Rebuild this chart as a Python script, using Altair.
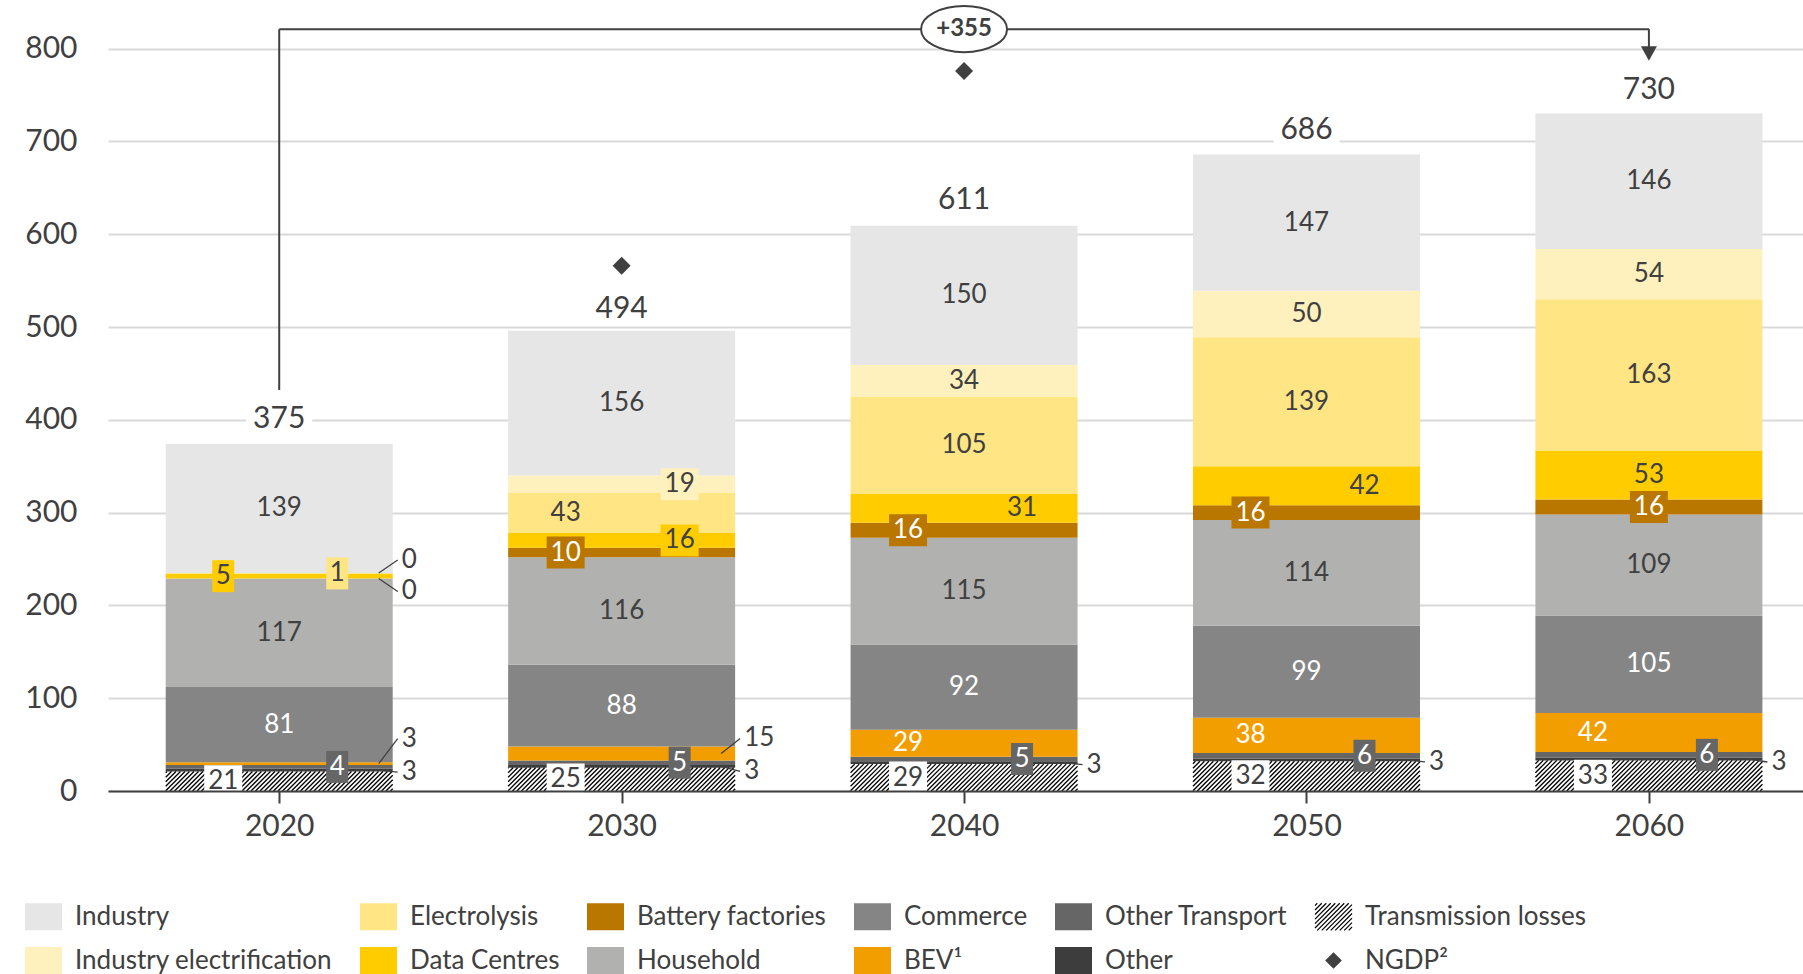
import altair as alt
import pandas as pd
import numpy as np

# ---------------- data ----------------
years = [2020, 2030, 2040, 2050, 2060]
transmission_losses = [21, 25, 29, 32, 33]
other = [3, 3, 3, 3, 3]
other_transport = [4, 5, 5, 6, 6]
bev = [3, 15, 29, 38, 42]
commerce = [81, 88, 92, 99, 105]
household = [117, 116, 115, 114, 109]
battery_factories = [0, 10, 16, 16, 16]
data_centres = [5, 16, 31, 42, 53]
electrolysis = [1, 43, 105, 139, 163]
industry_electrification = [0, 19, 34, 50, 54]
industry = [139, 156, 150, 147, 146]
totals = [375, 494, 611, 686, 730]
ngdp_years = [2030, 2040]
ngdp_values = [566, 776]

# stacking order, bottom -> top
STACK = [
    ("Transmission losses", transmission_losses),
    ("Other", other),
    ("Other Transport", other_transport),
    ("BEV¹", bev),
    ("Commerce", commerce),
    ("Household", household),
    ("Battery factories", battery_factories),
    ("Data Centres", data_centres),
    ("Electrolysis", electrolysis),
    ("Industry electrification", industry_electrification),
    ("Industry", industry),
]

LEGEND_ORDER = ["Industry", "Electrolysis", "Battery factories", "Commerce",
                "Other Transport", "Transmission losses",
                "Industry electrification", "Data Centres", "Household",
                "BEV¹", "Other", "NGDP²"]

COLORS = {
    "Industry": "#e6e6e6", "Electrolysis": "#ffe583",
    "Battery factories": "#b97700", "Commerce": "#858585",
    "Other Transport": "#666666", "Transmission losses": "#ffffff",
    "Industry electrification": "#fff1bd", "Data Centres": "#ffcc00",
    "Household": "#b1b1b0", "BEV¹": "#f39e00", "Other": "#3d3d3d",
    "NGDP²": "#404040",
}
DARK = "#404040"

# ---------------- geometry / style ----------------
PLOT_W, PLOT_H = 1695, 786
X_DOM = [2015, 2064.5]
Y_DOM = [0, 847]
PX_X = PLOT_W / (X_DOM[1] - X_DOM[0])
PX_Y = PLOT_H / (Y_DOM[1] - Y_DOM[0])
BAR_PX = 227
FONT = "Lato"


def ux(px):
    return px / PX_X


def uy(px):
    return px / PX_Y


def rect_path(w, h, s):
    a, b = w / s, h / s
    return f"M{-a:.4f},{-b:.4f}H{a:.4f}V{b:.4f}H{-a:.4f}Z"


# ---------------- stacked segments ----------------
seg_rows = []
for i, yr in enumerate(years):
    base = 0
    for name, vals in STACK:
        v = vals[i]
        seg_rows.append(dict(year=yr, series=name, value=v, y0=base, y1=base + v,
                             mid=base + v / 2))
        base += v
seg_df = pd.DataFrame(seg_rows)

# ---------------- hatch lines for transmission losses ----------------
HATCH_SP = 4.5
hatch_rows = []
for yr, v in zip(years, transmission_losses):
    W, H = BAR_PX, v * PX_Y
    c = -W + HATCH_SP / 2
    while c < H:
        xa = max(0.0, -c)
        xb = min(W, H - c)
        if xb > xa:
            hatch_rows.append(dict(series="Transmission losses",
                                   x=yr + ux(xa - W / 2), x2=yr + ux(xb - W / 2),
                                   y=(xa + c) / PX_Y, y2=(xb + c) / PX_Y))
        c += HATCH_SP
hatch_df = pd.DataFrame(hatch_rows)

# ---------------- legend symbols ----------------
LEG_S = 37
RECT_SYM = rect_path(37, 27, LEG_S)
hh = 27 / LEG_S
step = 2 * 4.5 / LEG_S
parts = []
k = -1 - hh + step / 2
while k < 1 + hh:
    xa, xb = max(-1.0, k - hh), min(1.0, k + hh)
    if xb > xa:
        parts.append(f"M{xa:.3f},{-xa + k:.3f}L{xb:.3f},{-xb + k:.3f}")
    k += step
HATCH_SYM = "".join(parts)
DIAMOND_SYM = "M0,-0.45L0.45,0L0,0.45L-0.45,0Z"

SHAPES = {n: RECT_SYM for n in LEGEND_ORDER}
SHAPES["Transmission losses"] = HATCH_SYM
SHAPES["NGDP²"] = DIAMOND_SYM
STROKES = {n: "transparent" for n in LEGEND_ORDER}
STROKES["Transmission losses"] = "#000000"

fill_scale = alt.Scale(domain=LEGEND_ORDER, range=[COLORS[n] for n in LEGEND_ORDER])
stroke_scale = alt.Scale(domain=LEGEND_ORDER, range=[STROKES[n] for n in LEGEND_ORDER])
shape_scale = alt.Scale(domain=LEGEND_ORDER, range=[SHAPES[n] for n in LEGEND_ORDER])

LEG = dict(title=None, orient="none", legendX=-84, legendY=892,
           direction="horizontal", columns=6, symbolType="square",
           symbolSize=LEG_S ** 2, symbolStrokeWidth=1.2, symbolOpacity=1,
           labelFont=FONT, labelFontSize=26, labelColor=DARK, labelLimit=600,
           labelOffset=12, columnPadding=24, rowPadding=8, padding=0)

# ---------------- labels ----------------
LEFT_PX, RIGHT_PX = -56, 58
MODES = {}
for yr in years:
    MODES[(yr, "Transmission losses")] = "left_box"
    MODES[(yr, "Other")] = "ext"
    MODES[(yr, "Other Transport")] = "right_box"
MODES.update({
    (2020, "BEV¹"): "ext", (2020, "Battery factories"): "ext",
    (2020, "Data Centres"): "left_box", (2020, "Electrolysis"): "right_box",
    (2020, "Industry electrification"): "ext",
    (2030, "BEV¹"): "ext", (2030, "Battery factories"): "left_box",
    (2030, "Data Centres"): "right_box", (2030, "Electrolysis"): "left",
    (2030, "Industry electrification"): "right_box",
    (2040, "BEV¹"): "left", (2040, "Battery factories"): "left_box",
    (2040, "Data Centres"): "right",
    (2050, "BEV¹"): "left", (2050, "Battery factories"): "left_box",
    (2050, "Data Centres"): "right",
    (2060, "BEV¹"): "left", (2060, "Battery factories"): "center_box",
})
NUDGE = {(2020, "Other"): 2, (2020, "BEV¹"): -25, (2020, "Battery factories"): 13,
         (2020, "Industry electrification"): -13, (2030, "Other"): 5,
         (2030, "BEV¹"): -15, (2040, "Other"): 2, (2050, "Other"): 2,
         (2060, "Other"): 3}
BOX_COLOR = {"Transmission losses": "#ffffff", "Other Transport": "#666666",
             "Battery factories": COLORS["Battery factories"],
             "Data Centres": COLORS["Data Centres"],
             "Electrolysis": COLORS["Electrolysis"],
             "Industry electrification": COLORS["Industry electrification"]}
WHITE_TEXT = {"Commerce", "BEV¹", "Battery factories", "Other Transport"}

lab_rows, box_rows, lead_rows = [], [], []
for r in seg_rows:
    yr, name, v, mid = r["year"], r["series"], r["value"], r["mid"]
    mode = MODES.get((yr, name), "center")
    txt = str(v)
    right = yr + ux(BAR_PX / 2)
    if mode == "ext":
        ly = mid - uy(NUDGE.get((yr, name), 0))
        lab_rows.append(dict(x=right + ux(9), y=ly, text=txt, tcolor="dark", align="left"))
        lead_rows.append(dict(x=right - ux(14), x2=right + ux(5), y=mid, y2=ly))
        continue
    off = {"left": LEFT_PX, "left_box": LEFT_PX, "right": RIGHT_PX,
           "right_box": RIGHT_PX}.get(mode, 0)
    lx = yr + ux(off)
    tcol = "white" if name in WHITE_TEXT else "dark"
    lab_rows.append(dict(x=lx, y=mid, text=txt, tcolor=tcol, align="center"))
    if mode.endswith("box"):
        w = 22 if len(txt) == 1 else 38
        box_rows.append(dict(bx=lx, by0=mid - uy(16), by1=mid + uy(16), bw=w,
                             bcolor=BOX_COLOR[name]))

TOT_OFF = 24
for yr, t in zip(years, totals):
    box_rows.append(dict(bx=yr, by0=t + uy(TOT_OFF - 15), by1=t + uy(TOT_OFF + 15),
                         bw=66, bcolor="#ffffff"))
lab_df = pd.DataFrame(lab_rows)
box_df = pd.DataFrame(box_rows)
lead_df = pd.DataFrame(lead_rows)
tot_df = pd.DataFrame(dict(x=years, y=[t + uy(TOT_OFF) for t in totals],
                           text=[str(t) for t in totals]))
ngdp_df = pd.DataFrame(dict(year=ngdp_years, value=ngdp_values,
                            series=["NGDP²"] * len(ngdp_years)))

# bracket annotation
BRACKET_TOP = 821
start_y = totals[0] + uy(53)
tip_y = totals[-1] + uy(53)
brk_df = pd.DataFrame(dict(x=[years[0], years[0], years[-1]],
                           x2=[years[0], years[-1], years[-1]],
                           y=[start_y, BRACKET_TOP, tip_y + uy(12)],
                           y2=[BRACKET_TOP, BRACKET_TOP, BRACKET_TOP]))
arrow_df = pd.DataFrame(dict(x=[years[-1]], y=[tip_y + uy(7)]))
delta_df = pd.DataFrame(dict(x=[(years[0] + years[-1]) / 2], y=[BRACKET_TOP],
                             text=[f"+{totals[-1] - totals[0]}"]))

# ---------------- encodings ----------------
xs = alt.Scale(domain=X_DOM, nice=False, zero=False, padding=0)
ys = alt.Scale(domain=Y_DOM, nice=False, zero=False, padding=0)
AX_X = alt.Axis(values=years, format="d", title=None, grid=False,
                labelFont=FONT, labelFontSize=30, labelColor=DARK,
                tickSize=12, tickWidth=2, tickColor=DARK,
                domainColor=DARK, domainWidth=2, labelPadding=8, zindex=1)
AX_Y = alt.Axis(values=list(range(0, 801, 100)), title=None, grid=True,
                gridColor="#d9d9d9", gridWidth=2, domain=False,
                ticks=False, labelFont=FONT, labelFontSize=30,
                labelColor=DARK, labelPadding=31, zindex=0)


def X(f):
    return alt.X(f, scale=xs, axis=AX_X)


def Y(f):
    return alt.Y(f, scale=ys, axis=AX_Y)


bars = alt.Chart(seg_df).mark_bar(size=BAR_PX).encode(
    x=X("year:Q"), y=Y("y0:Q"), y2="y1:Q",
    fill=alt.Fill("series:N", scale=fill_scale, legend=alt.Legend(**LEG)),
)

hatch = alt.Chart(hatch_df).mark_rule(strokeWidth=1.3).encode(
    x=X("x:Q"), x2="x2:Q", y=Y("y:Q"), y2="y2:Q",
    stroke=alt.Stroke("series:N", scale=stroke_scale, legend=alt.Legend(**LEG)),
)

brackets = alt.Chart(brk_df).mark_rule(color=DARK, strokeWidth=2).encode(
    x=X("x:Q"), x2="x2:Q", y=Y("y:Q"), y2="y2:Q")

leaders = alt.Chart(lead_df).mark_rule(color=DARK, strokeWidth=1.3).encode(
    x=X("x:Q"), x2="x2:Q", y=Y("y:Q"), y2="y2:Q")

box_layers = []
for col in sorted(set(box_df["bcolor"])):
    box_layers.append(
        alt.Chart(box_df).transform_filter(alt.datum.bcolor == col)
        .mark_bar(color=col)
        .encode(x=X("bx:Q"), y=Y("by0:Q"), y2="by1:Q",
                size=alt.Size("bw:Q", scale=None)))

txt_center_dark = alt.Chart(lab_df).transform_filter(
    (alt.datum.align == "center") & (alt.datum.tcolor == "dark")
).mark_text(font=FONT, fontSize=26, color=DARK, align="center", baseline="middle"
            ).encode(x=X("x:Q"), y=Y("y:Q"), text="text:N")
txt_center_white = alt.Chart(lab_df).transform_filter(
    (alt.datum.align == "center") & (alt.datum.tcolor == "white")
).mark_text(font=FONT, fontSize=26, color="#ffffff", align="center", baseline="middle"
            ).encode(x=X("x:Q"), y=Y("y:Q"), text="text:N")
txt_ext = alt.Chart(lab_df).transform_filter(alt.datum.align == "left").mark_text(
    font=FONT, fontSize=26, color=DARK, align="left", baseline="middle"
).encode(x=X("x:Q"), y=Y("y:Q"), text="text:N")

tot_txt = alt.Chart(tot_df).mark_text(
    font=FONT, fontSize=30, color=DARK, align="center", baseline="middle"
).encode(x=X("x:Q"), y=Y("y:Q"), text="text:N")

ngdp = alt.Chart(ngdp_df).mark_point(filled=True, opacity=1, size=1600).encode(
    x=X("year:Q"), y=Y("value:Q"),
    fill=alt.Fill("series:N", scale=fill_scale, legend=alt.Legend(**LEG)),
    shape=alt.Shape("series:N", scale=shape_scale, legend=alt.Legend(**LEG)),
)

arrow = alt.Chart(arrow_df).mark_point(
    shape="M-1,-0.9L1,-0.9L0,0.9Z", filled=True, color=DARK, opacity=1, size=256
).encode(x=X("x:Q"), y=Y("y:Q"))

ellipse = alt.Chart(delta_df).mark_point(
    shape="M-1,0A1,0.535,0,1,0,1,0A1,0.535,0,1,0,-1,0Z", filled=True,
    fill="#ffffff", stroke=DARK, strokeWidth=2, opacity=1, size=86 ** 2
).encode(x=X("x:Q"), y=Y("y:Q"))

delta_txt = alt.Chart(delta_df).mark_text(
    font=FONT, fontSize=24, fontWeight="bold", color=DARK, align="center",
    baseline="middle"
).encode(x=X("x:Q"), y=Y("y:Q"), text="text:N")

chart = alt.layer(
    bars, hatch, brackets, leaders, *box_layers,
    txt_center_dark, txt_center_white, txt_ext, tot_txt,
    ngdp, arrow, ellipse, delta_txt,
).properties(
    width=PLOT_W, height=PLOT_H,
    padding={"left": 108, "top": 5, "right": 0, "bottom": 183},
    autosize=alt.AutoSizeParams(type="none"),
    background="#ffffff",
).configure_view(strokeWidth=0)

chart.save("out.html", embed_options={"renderer": "svg", "actions": False})
